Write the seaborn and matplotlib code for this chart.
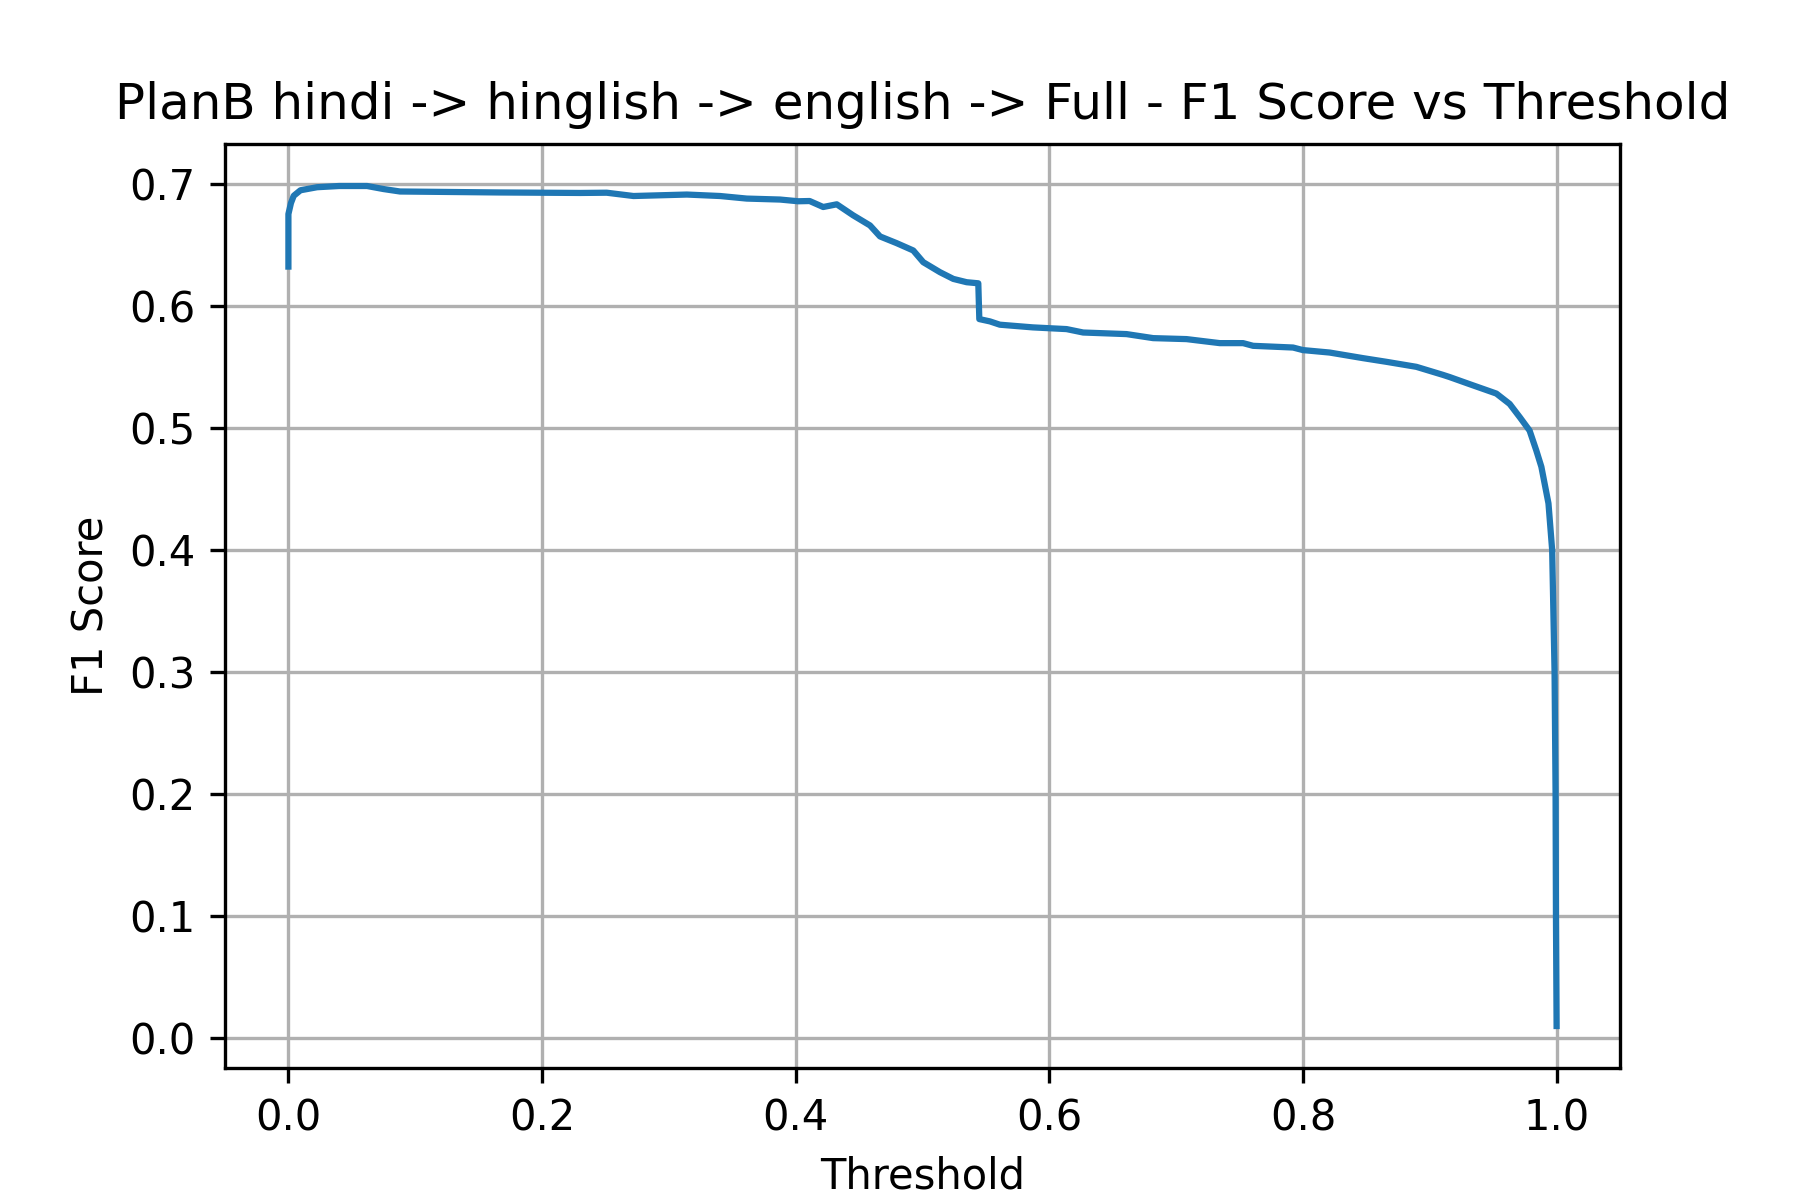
import pandas as pd
import matplotlib
matplotlib.use("Agg")
import matplotlib.pyplot as plt
import seaborn as sns

# values
thresholds = [0.0, 0.0, 0.002, 0.0042, 0.0095, 0.0226, 0.04, 0.062, 0.075, 0.088,
              0.167, 0.2301, 0.251, 0.2721, 0.3142, 0.3404, 0.3614, 0.3877, 0.402,
              0.411, 0.4217, 0.4324, 0.4453, 0.4586, 0.4665, 0.4796, 0.4927, 0.5006,
              0.5138, 0.5243, 0.5348, 0.544, 0.5448, 0.5532, 0.561, 0.587, 0.6136,
              0.6267, 0.6609, 0.6819, 0.7082, 0.7344, 0.7528, 0.7607, 0.7922, 0.8,
              0.821, 0.8474, 0.8658, 0.8894, 0.9104, 0.9157, 0.9314, 0.9525, 0.963,
              0.971, 0.9787, 0.984, 0.988, 0.9936, 0.9965, 0.9984, 0.9992, 0.9995,
              1.0]
f1_scores = [0.632, 0.675, 0.684, 0.690, 0.6945, 0.697, 0.698, 0.698, 0.6955, 0.6935,
             0.6927, 0.6923, 0.6925, 0.6898, 0.691, 0.6898, 0.6877, 0.6869, 0.6855,
             0.6857, 0.6808, 0.683, 0.674, 0.6657, 0.6567, 0.6512, 0.6452, 0.6356,
             0.6274, 0.6219, 0.6192, 0.6183, 0.589, 0.5871, 0.5844, 0.5822, 0.5808,
             0.578, 0.5767, 0.5734, 0.5726, 0.5693, 0.5693, 0.5671, 0.5657, 0.5636,
             0.5616, 0.557, 0.554, 0.5499, 0.5433, 0.5415, 0.5357, 0.528, 0.5195,
             0.5086, 0.4977, 0.4814, 0.468, 0.438, 0.40, 0.30, 0.20, 0.10, 0.01]

df = pd.DataFrame({"Threshold": thresholds, "F1 Score": f1_scores})

plt.figure(figsize=(6, 4))
sns.lineplot(x="Threshold", y="F1 Score", data=df, estimator=None, sort=False)
plt.title("PlanB hindi -> hinglish -> english -> Full - F1 Score vs Threshold")
plt.xlabel("Threshold")
plt.ylabel("F1 Score")
plt.grid(True)
plt.savefig("out.png", dpi=300)
